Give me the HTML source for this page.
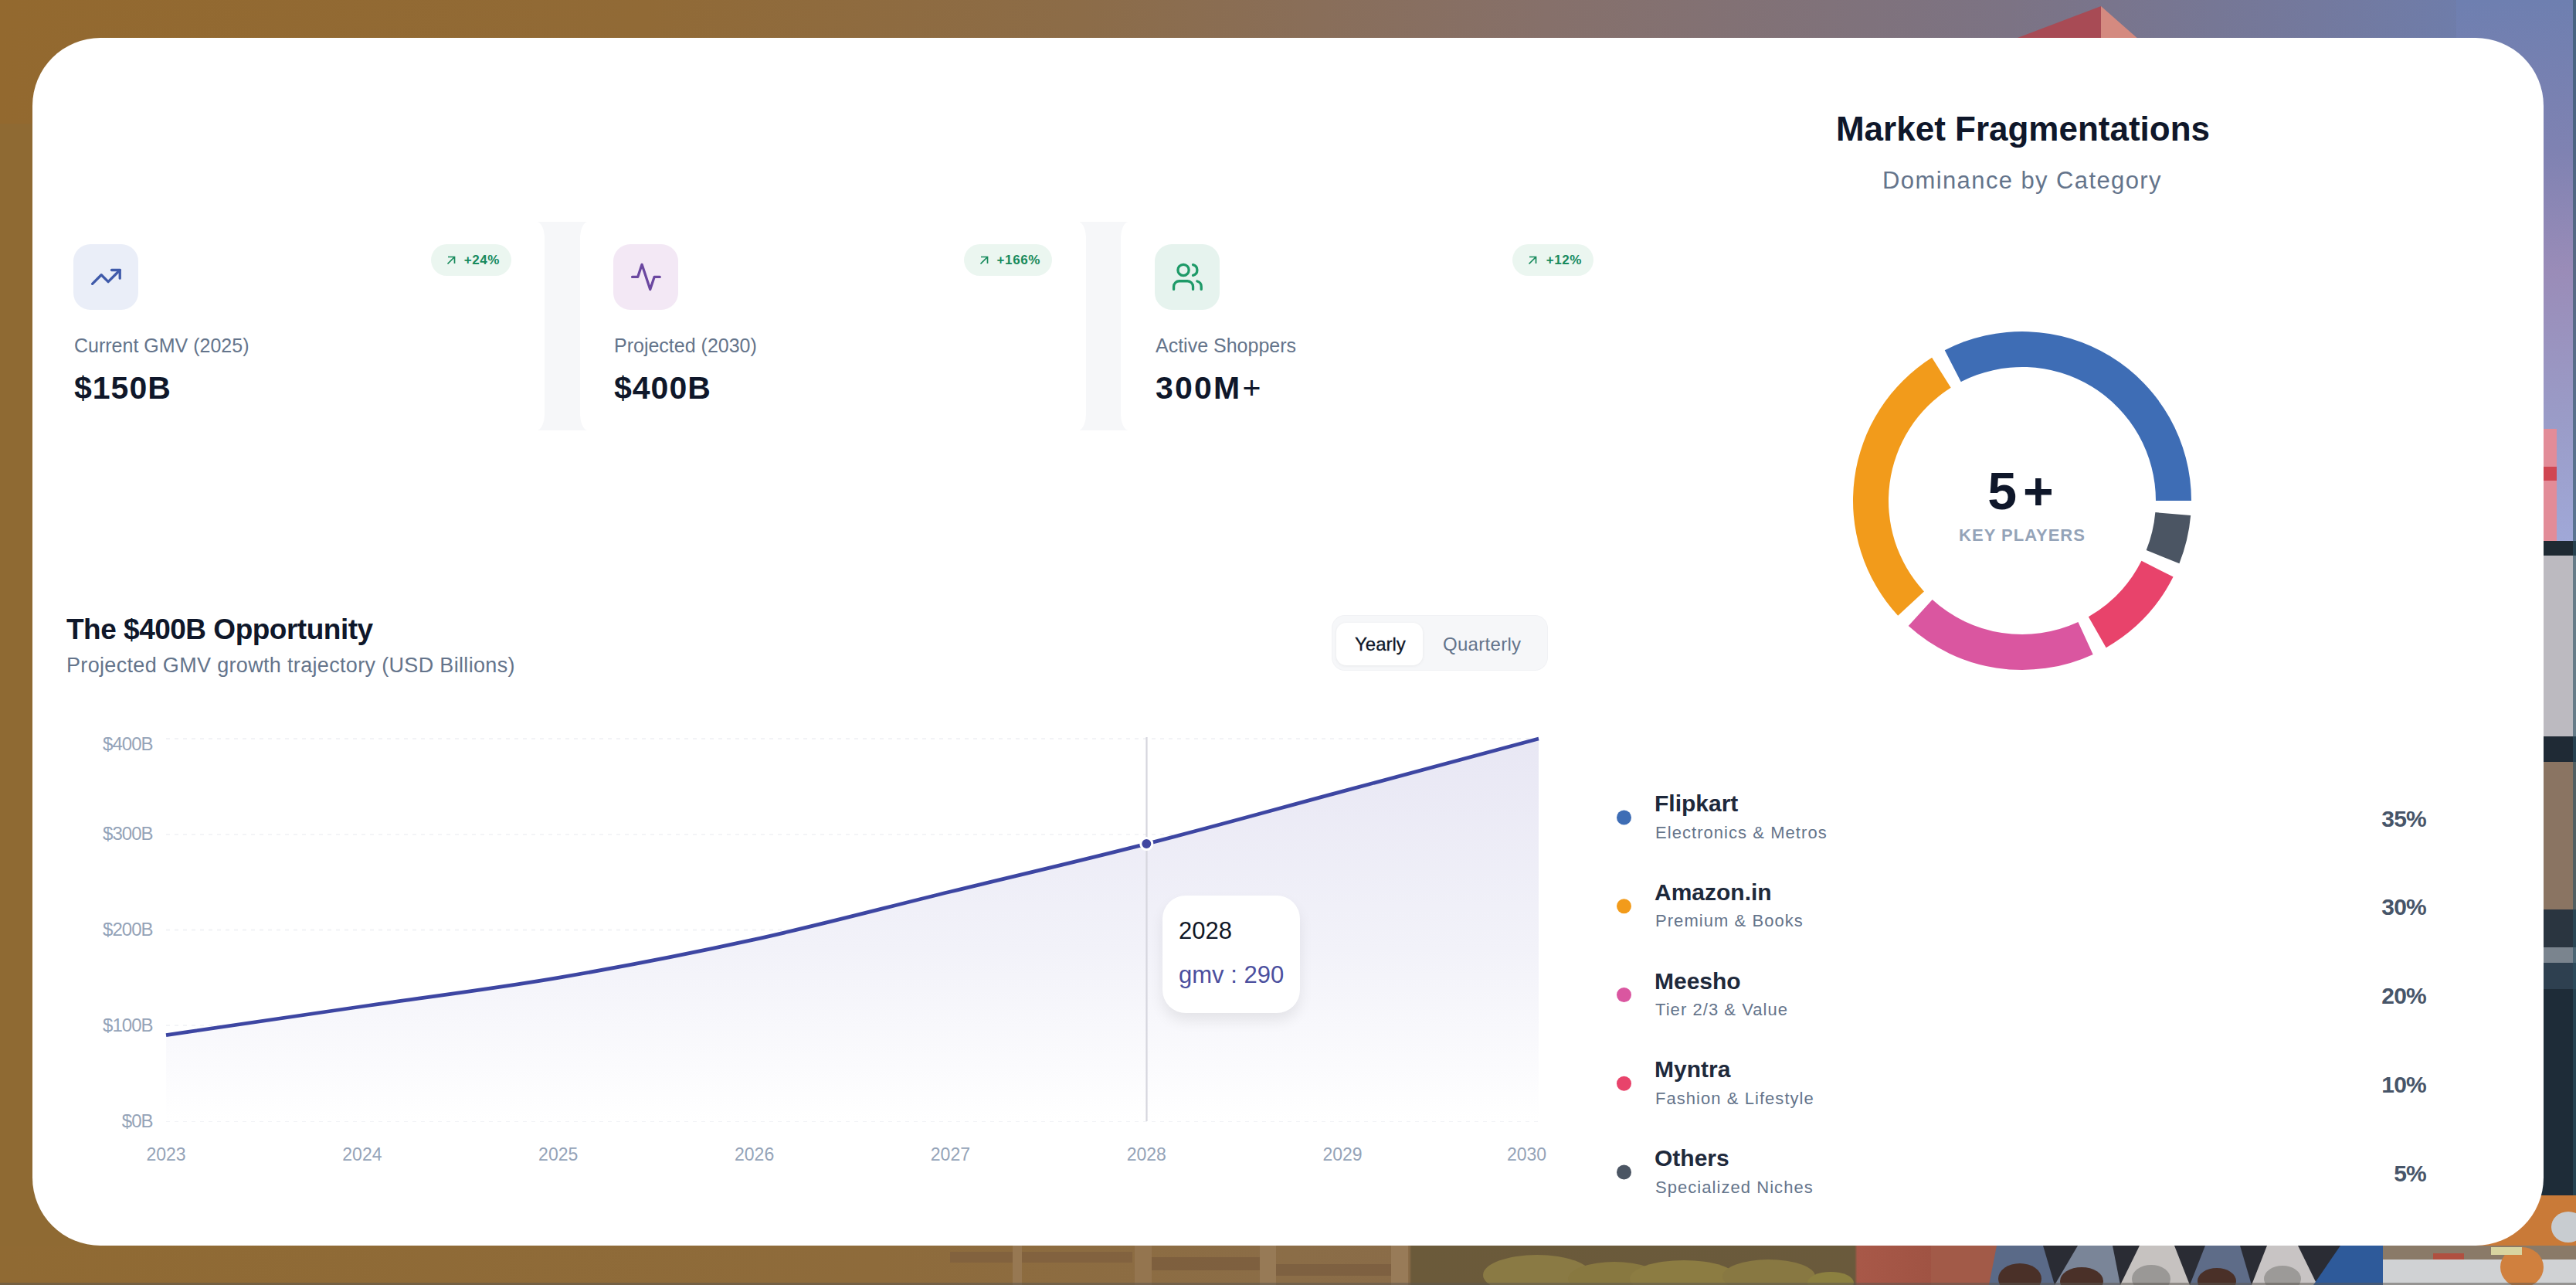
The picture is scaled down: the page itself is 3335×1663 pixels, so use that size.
<!DOCTYPE html>
<html><head><meta charset="utf-8">
<style>
*{margin:0;padding:0;box-sizing:border-box}
html,body{width:3335px;height:1663px;overflow:hidden}
body{position:relative;font-family:"Liberation Sans", sans-serif;background:#8f6a35}
.a{position:absolute}
.t{position:absolute;white-space:nowrap;line-height:1}
</style></head><body>
<svg class="a" style="left:0;top:0" width="3335" height="1663">
<defs>
<linearGradient id="gtop" x1="0" y1="0" x2="1" y2="0">
<stop offset="0" stop-color="#93692f"/><stop offset="0.25" stop-color="#916a36"/><stop offset="0.42" stop-color="#8c6c48"/><stop offset="0.6" stop-color="#86706a"/><stop offset="0.78" stop-color="#7c7384"/><stop offset="0.9" stop-color="#73799e"/><stop offset="1" stop-color="#6b80b4"/>
</linearGradient>
<linearGradient id="gsky" x1="0" y1="0" x2="0" y2="1">
<stop offset="0" stop-color="#6e7fb0"/><stop offset="0.28" stop-color="#7f82b2"/><stop offset="0.5" stop-color="#9a8cb8"/><stop offset="0.78" stop-color="#9a9cc8"/><stop offset="1" stop-color="#a0a8d8"/>
</linearGradient>
<linearGradient id="gbot" x1="0" y1="0" x2="1" y2="0">
<stop offset="0" stop-color="#906a33"/><stop offset="0.34" stop-color="#8e6b3b"/><stop offset="0.5" stop-color="#8b6d47"/><stop offset="0.547" stop-color="#8a6c48"/><stop offset="0.548" stop-color="#6b5a3a"/><stop offset="0.72" stop-color="#6a5a3c"/><stop offset="0.721" stop-color="#a85848"/><stop offset="0.77" stop-color="#9a5040"/><stop offset="1" stop-color="#9a5040"/>
</linearGradient>
</defs>
<rect x="0" y="0" width="3335" height="1663" fill="#8f6a33"/>
<rect x="0" y="0" width="3335" height="160" fill="url(#gtop)"/>
<polygon points="2604,52 2720,8 2720,52" fill="#a84b55"/><polygon points="2720,8 2770,52 2720,52" fill="#d48a80"/>
<rect x="3180" y="0" width="155" height="703" fill="url(#gsky)"/>
<rect x="3288" y="555" width="22" height="147" fill="#e28c98"/>
<rect x="3288" y="604" width="22" height="18" fill="#d04652"/>
<rect x="3280" y="700" width="55" height="19" fill="#1f2a33"/>
<rect x="3280" y="719" width="55" height="234" fill="#bcbac0"/>
<rect x="3280" y="953" width="55" height="33" fill="#1f2a35"/>
<rect x="3280" y="986" width="55" height="191" fill="#8a7462"/>
<rect x="3280" y="1177" width="55" height="49" fill="#2a3540"/>
<rect x="3280" y="1226" width="55" height="20" fill="#7a848e"/>
<rect x="3280" y="1246" width="55" height="34" fill="#2e4050"/>
<rect x="3280" y="1280" width="55" height="267" fill="#1e2c38"/>
<rect x="3331" y="0" width="4" height="1547" fill="#2d5262" opacity="0.6"/>
<rect x="3200" y="1547" width="135" height="70" fill="#c97a38"/>
<ellipse cx="3325" cy="1588" rx="22" ry="20" fill="#c8ccd0"/>
<rect x="0" y="1612" width="3335" height="51" fill="url(#gbot)"/>
<rect x="1230" y="1620" width="236" height="14" fill="#7f603e" opacity="0.8"/>
<rect x="1491" y="1627" width="140" height="17" fill="#7a5d3d" opacity="0.8"/>
<rect x="1652" y="1636" width="149" height="15" fill="#7a5e40" opacity="0.8"/>
<rect x="1311" y="1612" width="12" height="51" fill="#977852"/>
<rect x="1469" y="1612" width="22" height="51" fill="#94754f"/>
<rect x="1631" y="1612" width="21" height="51" fill="#977a56"/>
<rect x="1801" y="1612" width="22" height="51" fill="#987b58"/>
<ellipse cx="1990" cy="1650" rx="70" ry="26" fill="#8a7a44"/>
<ellipse cx="2090" cy="1655" rx="60" ry="22" fill="#887840"/>
<ellipse cx="2180" cy="1655" rx="70" ry="24" fill="#8c7c42"/>
<ellipse cx="2290" cy="1652" rx="60" ry="22" fill="#887842"/>
<ellipse cx="2370" cy="1660" rx="30" ry="14" fill="#8c8040"/>
<rect x="2500" y="1612" width="835" height="51" fill="#2a2c34"/>
<rect x="2500" y="1612" width="85" height="51" fill="#a25a48"/>
<path d="M2585,1612 L2645,1612 L2660,1663 L2575,1663 Z" fill="#5a6a88"/>
<ellipse cx="2615" cy="1655" rx="28" ry="20" fill="#4a3028"/>
<path d="M2690,1612 L2735,1612 L2745,1663 L2660,1663 Z" fill="#7a8598"/>
<ellipse cx="2695" cy="1658" rx="28" ry="18" fill="#4a3028"/>
<path d="M2770,1612 L2815,1612 L2835,1663 L2745,1663 Z" fill="#c6c2c0"/>
<ellipse cx="2785" cy="1655" rx="25" ry="18" fill="#9a9896"/>
<path d="M2855,1612 L2900,1612 L2915,1663 L2835,1663 Z" fill="#5e6c88"/>
<ellipse cx="2870" cy="1658" rx="25" ry="17" fill="#4a3028"/>
<path d="M2935,1612 L2975,1612 L3000,1663 L2915,1663 Z" fill="#c8c4c4"/>
<ellipse cx="2955" cy="1655" rx="24" ry="17" fill="#9c9a98"/>
<path d="M3030,1612 L3085,1612 L3085,1663 L2995,1663 Z" fill="#2e5a9a"/>
<rect x="3085" y="1612" width="250" height="18" fill="#8a7a68"/>
<rect x="3085" y="1630" width="250" height="33" fill="#d0d2d4"/>
<ellipse cx="3265" cy="1640" rx="28" ry="26" fill="#d0803e"/>
<rect x="3150" y="1622" width="40" height="8" fill="#b05040"/>
<rect x="3225" y="1614" width="40" height="10" fill="#d8d4a0"/>
<rect x="0" y="1660" width="3335" height="3" fill="#5a5650" opacity="0.5"/>
</svg>
<div class="a" style="left:42px;top:49px;width:3251px;height:1563px;background:#fff;border-radius:88px"></div>
<div class="a" style="left:696px;top:287px;width:64px;height:270px;background:#f6f7f9"></div>
<div class="a" style="left:1398px;top:287px;width:64px;height:270px;background:#f6f7f9"></div>
<div class="a" style="left:50px;top:287px;width:655px;height:270px;background:#fff;border-radius:10px/22px"></div>
<div class="a" style="left:751px;top:287px;width:655px;height:270px;background:#fff;border-radius:10px/22px"></div>
<div class="a" style="left:1451px;top:287px;width:655px;height:270px;background:#fff;border-radius:10px/22px"></div>
<div class="a" style="left:95px;top:316px;width:84px;height:85px;background:#eaeef8;border-radius:22px"></div>
<svg class="a" style="left:115.6px;top:337.1px" width="42.8" height="42.8" viewBox="0 0 24 24" fill="none" stroke="#3f5aaa" stroke-width="1.85" stroke-linecap="round" stroke-linejoin="round"><polyline points="22 7 13.5 15.5 8.5 10.5 2 17"/><polyline points="16 7 22 7 22 13"/></svg>
<div class="t" style="top:435.3px;font-size:25px;font-weight:400;color:#64748b;letter-spacing:0px;left:96.0px;">Current GMV (2025)</div>
<div class="t" style="top:482.3px;font-size:41px;font-weight:700;color:#0f172a;letter-spacing:1px;left:96.0px;">$150B</div>
<div class="a" style="left:558px;top:316px;width:104px;height:41px;background:#ebf6f0;border-radius:21px"></div>
<svg class="a" style="left:578px;top:331px" width="12" height="12" viewBox="0 0 12 12" fill="none" stroke="#178a5c" stroke-width="1.7"><path d="M1.5 10.5L10.5 1.5M2 1.5H10.5V10"/></svg>
<div class="t" style="top:327.6px;font-size:17px;font-weight:700;color:#178a5c;letter-spacing:0.6px;left:-353.0px;width:1000px;text-align:right;">+24%</div>
<div class="a" style="left:794px;top:316px;width:84px;height:85px;background:#f3e8f5;border-radius:22px"></div>
<svg class="a" style="left:814.6px;top:337.1px" width="42.8" height="42.8" viewBox="0 0 24 24" fill="none" stroke="#6b47a0" stroke-width="1.85" stroke-linecap="round" stroke-linejoin="round"><path d="M22 12h-4l-3 9L9 3l-3 9H2"/></svg>
<div class="t" style="top:435.3px;font-size:25px;font-weight:400;color:#64748b;letter-spacing:0px;left:795.0px;">Projected (2030)</div>
<div class="t" style="top:482.3px;font-size:41px;font-weight:700;color:#0f172a;letter-spacing:1px;left:795.0px;">$400B</div>
<div class="a" style="left:1248px;top:316px;width:114px;height:41px;background:#ebf6f0;border-radius:21px"></div>
<svg class="a" style="left:1268px;top:331px" width="12" height="12" viewBox="0 0 12 12" fill="none" stroke="#178a5c" stroke-width="1.7"><path d="M1.5 10.5L10.5 1.5M2 1.5H10.5V10"/></svg>
<div class="t" style="top:327.6px;font-size:17px;font-weight:700;color:#178a5c;letter-spacing:0.6px;left:347.0px;width:1000px;text-align:right;">+166%</div>
<div class="a" style="left:1495px;top:316px;width:84px;height:85px;background:#e6f3ee;border-radius:22px"></div>
<svg class="a" style="left:1515.6px;top:337.1px" width="42.8" height="42.8" viewBox="0 0 24 24" fill="none" stroke="#1e9a68" stroke-width="1.85" stroke-linecap="round" stroke-linejoin="round"><path d="M16 21v-2a4 4 0 0 0-4-4H6a4 4 0 0 0-4 4v2"/><circle cx="9" cy="7" r="4"/><path d="M22 21v-2a4 4 0 0 0-3-3.87"/><path d="M16 3.13a4 4 0 0 1 0 7.75"/></svg>
<div class="t" style="top:435.3px;font-size:25px;font-weight:400;color:#64748b;letter-spacing:0px;left:1496.0px;">Active Shoppers</div>
<div class="t" style="top:482.3px;font-size:41px;font-weight:700;color:#0f172a;letter-spacing:2.2px;left:1496.0px;">300M<span style="margin-left:1px;font-weight:400;letter-spacing:0">+</span></div>
<div class="a" style="left:1958px;top:316px;width:105px;height:41px;background:#ebf6f0;border-radius:21px"></div>
<svg class="a" style="left:1978px;top:331px" width="12" height="12" viewBox="0 0 12 12" fill="none" stroke="#178a5c" stroke-width="1.7"><path d="M1.5 10.5L10.5 1.5M2 1.5H10.5V10"/></svg>
<div class="t" style="top:327.6px;font-size:17px;font-weight:700;color:#178a5c;letter-spacing:0.6px;left:1048.0px;width:1000px;text-align:right;">+12%</div>
<div class="t" style="top:795.7px;font-size:37px;font-weight:700;color:#0f172a;letter-spacing:-0.5px;left:86.0px;">The $400B Opportunity</div>
<div class="t" style="top:847.6px;font-size:27px;font-weight:400;color:#64748b;letter-spacing:0.33px;left:86.0px;">Projected GMV growth trajectory (USD Billions)</div>
<div class="a" style="left:1725px;top:797px;width:278px;height:70px;background:#f6f7f9;border-radius:16px;box-shadow:0 0 0 1px #f1f2f5"></div>
<div class="a" style="left:1730px;top:806px;width:112px;height:55px;background:#fff;border-radius:13px;box-shadow:0 1px 4px rgba(0,0,0,0.06)"></div>
<div class="t" style="top:821.7px;font-size:24px;font-weight:400;color:#0f172a;letter-spacing:0px;left:1754.0px;-webkit-text-stroke:0.3px #0f172a;">Yearly</div>
<div class="t" style="top:821.7px;font-size:24px;font-weight:400;color:#64748b;letter-spacing:0.3px;left:1868.0px;">Quarterly</div>
<svg class="a" style="left:0;top:0" width="3335" height="1663"><defs><linearGradient id="ga" x1="0" y1="0" x2="0" y2="1"><stop offset="0" stop-color="#e8e7f4"/><stop offset="0.55" stop-color="#f2f2f9"/><stop offset="1" stop-color="#ffffff"/></linearGradient></defs><line x1="215" y1="1451.0" x2="1992" y2="1451.0" stroke="#f2f3f6" stroke-width="1.8" stroke-dasharray="5 6"/><line x1="215" y1="1327.2" x2="1992" y2="1327.2" stroke="#f2f3f6" stroke-width="1.8" stroke-dasharray="5 6"/><line x1="215" y1="1203.5" x2="1992" y2="1203.5" stroke="#f2f3f6" stroke-width="1.8" stroke-dasharray="5 6"/><line x1="215" y1="1079.8" x2="1992" y2="1079.8" stroke="#f2f3f6" stroke-width="1.8" stroke-dasharray="5 6"/><line x1="215" y1="956.0" x2="1992" y2="956.0" stroke="#f2f3f6" stroke-width="1.8" stroke-dasharray="5 6"/><path d="M215.0,1339.6C299.6,1327.2,384.2,1314.9,468.9,1302.5C553.5,1290.1,638.1,1279.8,722.7,1265.4C807.3,1250.9,892.0,1234.4,976.6,1215.9C1061.2,1197.3,1145.8,1174.6,1230.4,1154.0C1315.0,1133.4,1399.7,1113.8,1484.3,1092.1C1568.9,1070.5,1653.5,1046.8,1738.1,1024.1C1822.8,1001.4,1907.4,978.7,1992.0,956.0L1992.0,1451L215.0,1451Z" fill="url(#ga)"/><line x1="1484.5" y1="954" x2="1484.5" y2="1451" stroke="#d6d6de" stroke-width="2.2"/><path d="M215.0,1339.6C299.6,1327.2,384.2,1314.9,468.9,1302.5C553.5,1290.1,638.1,1279.8,722.7,1265.4C807.3,1250.9,892.0,1234.4,976.6,1215.9C1061.2,1197.3,1145.8,1174.6,1230.4,1154.0C1315.0,1133.4,1399.7,1113.8,1484.3,1092.1C1568.9,1070.5,1653.5,1046.8,1738.1,1024.1C1822.8,1001.4,1907.4,978.7,1992.0,956.0" fill="none" stroke="#3d46a2" stroke-width="4.8"/><circle cx="1484.3" cy="1092.1" r="7.5" fill="#4046a0" stroke="#fff" stroke-width="3"/><path d="M2837.00,648.00A219,219 0 0 0 2517.73,453.31L2538.79,494.20A173,173 0 0 1 2791.00,648.00Z" fill="#3e6db5"/><path d="M2501.14,462.79A219,219 0 0 0 2457.18,796.66L2490.96,765.43A173,173 0 0 1 2525.68,501.69Z" fill="#f29b1b"/><path d="M2470.75,810.11A219,219 0 0 0 2709.69,846.88L2690.43,805.11A173,173 0 0 1 2501.68,776.06Z" fill="#da56a0"/><path d="M2726.67,838.14A219,219 0 0 0 2813.56,746.57L2772.49,725.87A173,173 0 0 1 2703.85,798.20Z" fill="#e8436b"/><path d="M2821.41,729.15A219,219 0 0 0 2836.17,667.09L2790.34,663.08A173,173 0 0 1 2778.68,712.11Z" fill="#4b5563"/><circle cx="2102.5" cy="1058.0" r="9.5" fill="#3e6db5"/><circle cx="2102.5" cy="1172.8" r="9.5" fill="#f29b1b"/><circle cx="2102.5" cy="1287.5" r="9.5" fill="#da56a0"/><circle cx="2102.5" cy="1402.2" r="9.5" fill="#e8436b"/><circle cx="2102.5" cy="1517.0" r="9.5" fill="#4b5563"/></svg>
<div class="t" style="top:1438.5px;font-size:24px;font-weight:400;color:#94a3b8;letter-spacing:-1px;left:-802.5px;width:1000px;text-align:right;">$0B</div>
<div class="t" style="top:1314.7px;font-size:24px;font-weight:400;color:#94a3b8;letter-spacing:-1px;left:-802.5px;width:1000px;text-align:right;">$100B</div>
<div class="t" style="top:1191.0px;font-size:24px;font-weight:400;color:#94a3b8;letter-spacing:-1px;left:-802.5px;width:1000px;text-align:right;">$200B</div>
<div class="t" style="top:1067.2px;font-size:24px;font-weight:400;color:#94a3b8;letter-spacing:-1px;left:-802.5px;width:1000px;text-align:right;">$300B</div>
<div class="t" style="top:950.7px;font-size:24px;font-weight:400;color:#94a3b8;letter-spacing:-1px;left:-802.5px;width:1000px;text-align:right;">$400B</div>
<div class="t" style="top:1483.0px;font-size:23px;font-weight:400;color:#94a3b8;letter-spacing:0px;left:-785.0px;width:2000px;text-align:center;">2023</div>
<div class="t" style="top:1483.0px;font-size:23px;font-weight:400;color:#94a3b8;letter-spacing:0px;left:-531.1px;width:2000px;text-align:center;">2024</div>
<div class="t" style="top:1483.0px;font-size:23px;font-weight:400;color:#94a3b8;letter-spacing:0px;left:-277.3px;width:2000px;text-align:center;">2025</div>
<div class="t" style="top:1483.0px;font-size:23px;font-weight:400;color:#94a3b8;letter-spacing:0px;left:-23.4px;width:2000px;text-align:center;">2026</div>
<div class="t" style="top:1483.0px;font-size:23px;font-weight:400;color:#94a3b8;letter-spacing:0px;left:230.4px;width:2000px;text-align:center;">2027</div>
<div class="t" style="top:1483.0px;font-size:23px;font-weight:400;color:#94a3b8;letter-spacing:0px;left:484.3px;width:2000px;text-align:center;">2028</div>
<div class="t" style="top:1483.0px;font-size:23px;font-weight:400;color:#94a3b8;letter-spacing:0px;left:738.1px;width:2000px;text-align:center;">2029</div>
<div class="t" style="top:1483.0px;font-size:23px;font-weight:400;color:#94a3b8;letter-spacing:0px;left:976.5px;width:2000px;text-align:center;">2030</div>
<div class="a" style="left:1505px;top:1159px;width:178px;height:152px;background:#fff;border-radius:30px;box-shadow:0 10px 18px rgba(0,0,0,0.08)"></div>
<div class="t" style="top:1188.8px;font-size:31px;font-weight:400;color:#111827;letter-spacing:0px;left:1526.0px;">2028</div>
<div class="t" style="top:1245.8px;font-size:31px;font-weight:400;color:#4b4f9e;letter-spacing:0px;left:1526.0px;">gmv : 290</div>
<div class="t" style="top:144.8px;font-size:44px;font-weight:700;color:#0f172a;letter-spacing:0px;left:1619.0px;width:2000px;text-align:center;">Market Fragmentations</div>
<div class="t" style="top:217.8px;font-size:31px;font-weight:400;color:#64748b;letter-spacing:1.4px;left:1618.0px;width:2000px;text-align:center;">Dominance by Category</div>
<div class="t" style="top:601.1px;font-size:68px;font-weight:700;color:#0f172a;letter-spacing:8px;left:1620.0px;width:2000px;text-align:center;">5+</div>
<div class="t" style="top:682.4px;font-size:22px;font-weight:700;color:#94a3b8;letter-spacing:1px;left:1618.0px;width:2000px;text-align:center;">KEY PLAYERS</div>
<div class="t" style="top:1025.1px;font-size:30px;font-weight:700;color:#1e293b;letter-spacing:0px;left:2142.0px;">Flipkart</div>
<div class="t" style="top:1066.6px;font-size:22px;font-weight:400;color:#64748b;letter-spacing:1.05px;left:2143.0px;">Electronics &amp; Metros</div>
<div class="t" style="top:1044.6px;font-size:30px;font-weight:700;color:#475569;letter-spacing:-0.8px;left:2141.0px;width:1000px;text-align:right;">35%</div>
<div class="t" style="top:1139.9px;font-size:30px;font-weight:700;color:#1e293b;letter-spacing:0px;left:2142.0px;">Amazon.in</div>
<div class="t" style="top:1181.3px;font-size:22px;font-weight:400;color:#64748b;letter-spacing:1.05px;left:2143.0px;">Premium &amp; Books</div>
<div class="t" style="top:1159.4px;font-size:30px;font-weight:700;color:#475569;letter-spacing:-0.8px;left:2141.0px;width:1000px;text-align:right;">30%</div>
<div class="t" style="top:1254.6px;font-size:30px;font-weight:700;color:#1e293b;letter-spacing:0px;left:2142.0px;">Meesho</div>
<div class="t" style="top:1296.1px;font-size:22px;font-weight:400;color:#64748b;letter-spacing:1.05px;left:2143.0px;">Tier 2/3 &amp; Value</div>
<div class="t" style="top:1274.1px;font-size:30px;font-weight:700;color:#475569;letter-spacing:-0.8px;left:2141.0px;width:1000px;text-align:right;">20%</div>
<div class="t" style="top:1369.4px;font-size:30px;font-weight:700;color:#1e293b;letter-spacing:0px;left:2142.0px;">Myntra</div>
<div class="t" style="top:1410.8px;font-size:22px;font-weight:400;color:#64748b;letter-spacing:1.05px;left:2143.0px;">Fashion &amp; Lifestyle</div>
<div class="t" style="top:1388.9px;font-size:30px;font-weight:700;color:#475569;letter-spacing:-0.8px;left:2141.0px;width:1000px;text-align:right;">10%</div>
<div class="t" style="top:1484.1px;font-size:30px;font-weight:700;color:#1e293b;letter-spacing:0px;left:2142.0px;">Others</div>
<div class="t" style="top:1525.6px;font-size:22px;font-weight:400;color:#64748b;letter-spacing:1.05px;left:2143.0px;">Specialized Niches</div>
<div class="t" style="top:1503.6px;font-size:30px;font-weight:700;color:#475569;letter-spacing:-0.8px;left:2141.0px;width:1000px;text-align:right;">5%</div>
</body></html>
